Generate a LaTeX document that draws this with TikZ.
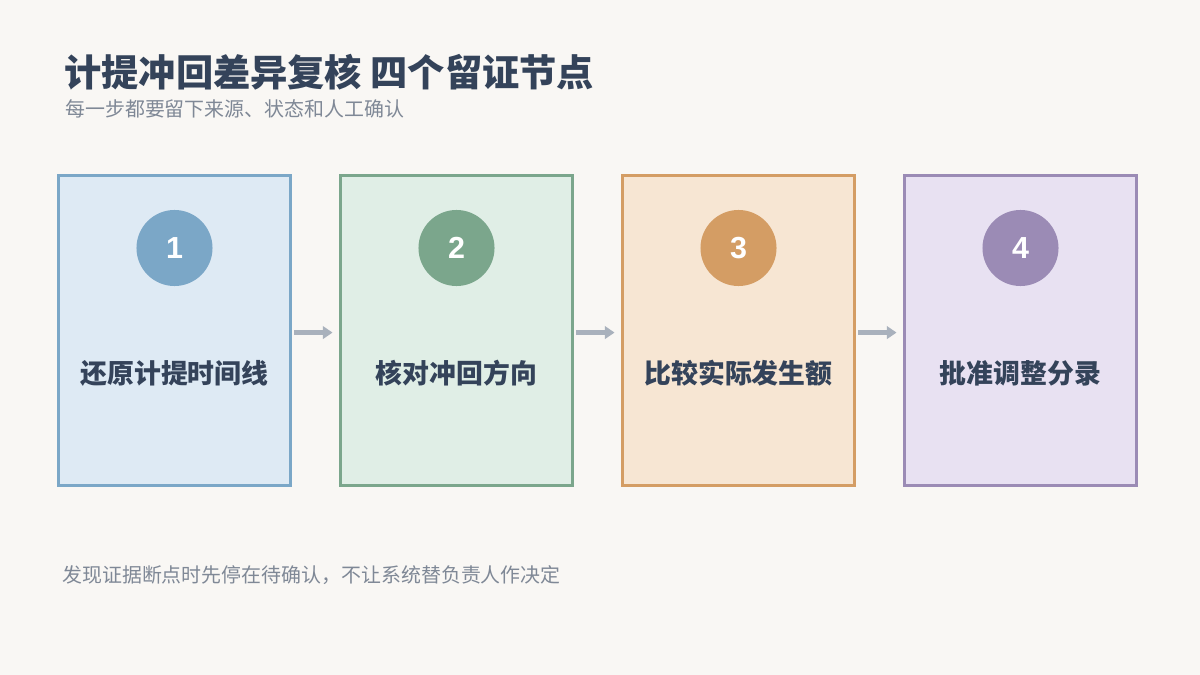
\documentclass[tikz,border=0pt]{standalone}
\usepackage{fontspec}
\usepackage{tikz}
\usepackage{xcolor}
\usetikzlibrary{arrows.meta}
\newfontfamily\cjk{Noto Sans CJK SC}
\newfontfamily\numfont{Liberation Sans}

\definecolor{pagebg}{HTML}{F9F7F4}
\definecolor{inkdark}{HTML}{34435A}
\definecolor{inkgray}{HTML}{7F8896}
\definecolor{arrowgray}{HTML}{A9B1BC}
\definecolor{blueline}{HTML}{7BA7C7}
\definecolor{bluefill}{HTML}{DEEAF4}
\definecolor{greenline}{HTML}{7BA68C}
\definecolor{greenfill}{HTML}{E0EEE6}
\definecolor{orangeline}{HTML}{D49D64}
\definecolor{orangefill}{HTML}{F7E6D3}
\definecolor{purpleline}{HTML}{9B8BB5}
\definecolor{purplefill}{HTML}{E8E1F2}

\begin{document}
\begin{tikzpicture}[x=0.01in, y=-0.01in,
    stepcard/.style={draw=#1, line width=2.1pt, minimum width=2.31in,
      minimum height=3.09in, inner sep=0pt},
    stepdot/.style={circle, fill=#1, minimum size=0.76in, inner sep=0pt,
      text=white, font=\numfont\bfseries\fontsize{22}{22}\selectfont},
    steplabel/.style={text=inkdark, font=\cjk\bfseries\fontsize{19.4}{19.4}\selectfont},
    flow/.style={draw=arrowgray, line width=3pt,
      -{Triangle[length=7pt, width=9pt]}, shorten <=2pt, shorten >=5pt}]
    % page
    \fill[pagebg] (0,0) rectangle (1200,675);
    \useasboundingbox (0,0) rectangle (1200,675);
    % heading
    \node[anchor=base west, inner sep=0pt, text=inkdark,
      font=\cjk\bfseries\fontsize{26.9}{26.9}\selectfont] (title) at (64,87)
      {计提冲回差异复核 四个留证节点};
    \node[anchor=base west, inner sep=0pt, text=inkgray,
      font=\cjk\fontsize{14.4}{14.4}\selectfont] (subtitle) at (65,117)
      {每一步都要留下来源、状态和人工确认};
    % step 1
    \node[stepcard=blueline, fill=bluefill] (card1) at (174.5,330.5) {};
    \node[stepdot=blueline] (dot1) at (174.5,248) {1};
    \node[steplabel] (label1) at (174.5,373) {还原计提时间线};
    % step 2
    \node[stepcard=greenline, fill=greenfill] (card2) at (456.5,330.5) {};
    \node[stepdot=greenline] (dot2) at (456.5,248) {2};
    \node[steplabel] (label2) at (456.5,373) {核对冲回方向};
    % step 3
    \node[stepcard=orangeline, fill=orangefill] (card3) at (738.5,330.5) {};
    \node[stepdot=orangeline] (dot3) at (738.5,248) {3};
    \node[steplabel] (label3) at (738.5,373) {比较实际发生额};
    % step 4
    \node[stepcard=purpleline, fill=purplefill] (card4) at (1020.5,330.5) {};
    \node[stepdot=purpleline] (dot4) at (1020.5,248) {4};
    \node[steplabel] (label4) at (1020.5,373) {批准调整分录};
    % arrows between cards
    \draw[flow] ([yshift=-1.5pt]card1.east) -- ([yshift=-1.5pt]card2.west);
    \draw[flow] ([yshift=-1.5pt]card2.east) -- ([yshift=-1.5pt]card3.west);
    \draw[flow] ([yshift=-1.5pt]card3.east) -- ([yshift=-1.5pt]card4.west);
    % footnote
    \node[anchor=base west, inner sep=0pt, text=inkgray,
      font=\cjk\fontsize{14.4}{14.4}\selectfont] (footer) at (62,582)
      {发现证据断点时先停在待确认，不让系统替负责人作决定};
  \end{tikzpicture}
\end{document}
